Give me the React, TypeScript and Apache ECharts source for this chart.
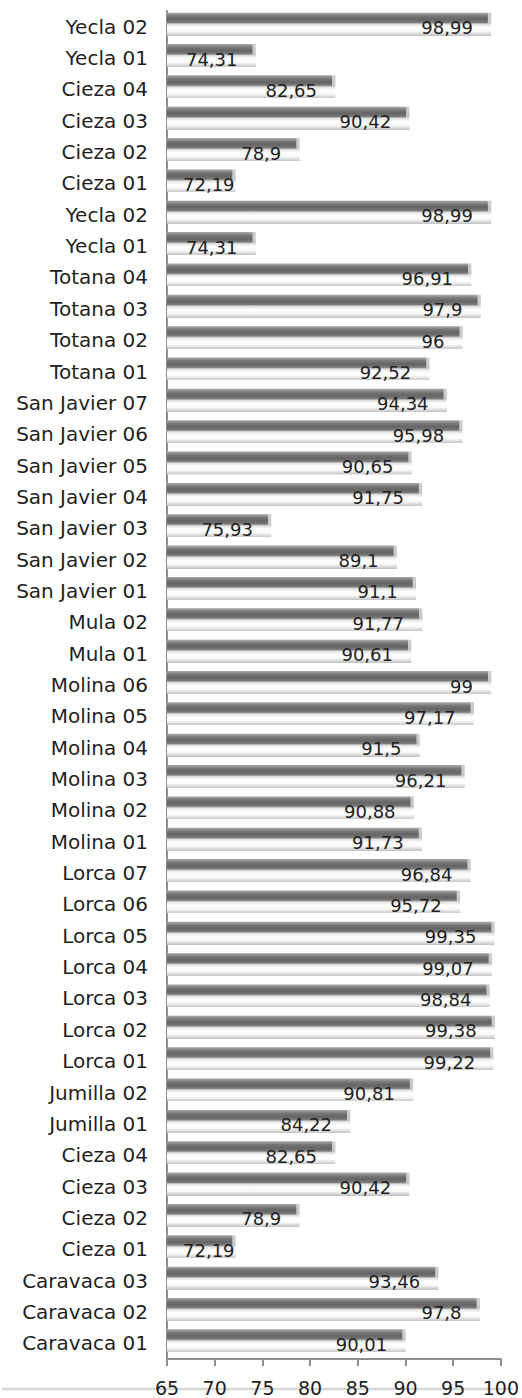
import React, { useEffect, useRef } from "react";
import * as echarts from "echarts";

// Categories listed bottom -> top (as ECharts draws a category y axis)
const categories: string[] = [
  "Caravaca 01", "Caravaca 02", "Caravaca 03",
  "Cieza 01", "Cieza 02", "Cieza 03", "Cieza 04",
  "Jumilla 01", "Jumilla 02",
  "Lorca 01", "Lorca 02", "Lorca 03", "Lorca 04", "Lorca 05", "Lorca 06", "Lorca 07",
  "Molina 01", "Molina 02", "Molina 03", "Molina 04", "Molina 05", "Molina 06",
  "Mula 01", "Mula 02",
  "San Javier 01", "San Javier 02", "San Javier 03", "San Javier 04", "San Javier 05", "San Javier 06", "San Javier 07",
  "Totana 01", "Totana 02", "Totana 03", "Totana 04",
  "Yecla 01", "Yecla 02",
  "Cieza 01", "Cieza 02", "Cieza 03", "Cieza 04",
  "Yecla 01", "Yecla 02",
];

const values: number[] = [
  90.01, 97.8, 93.46,
  72.19, 78.9, 90.42, 82.65,
  84.22, 90.81,
  99.22, 99.38, 98.84, 99.07, 99.35, 95.72, 96.84,
  91.73, 90.88, 96.21, 91.5, 97.17, 99,
  90.61, 91.77,
  91.1, 89.1, 75.93, 91.75, 90.65, 95.98, 94.34,
  92.52, 96, 97.9, 96.91,
  74.31, 98.99,
  72.19, 78.9, 90.42, 82.65,
  74.31, 98.99,
];

const xTicks = { min: 65, max: 100, interval: 5 };

const FONT = "'DejaVu Sans', sans-serif";
const AXIS = "#8e8e8e";
const GRID_LEFT = 167;
const GRID_WIDTH = 334;
const VALUE_FONT = 18;

const fmt = (v: number) => String(v).replace(".", ",");

export default function App() {
  const ref = useRef<HTMLDivElement>(null);

  useEffect(() => {
    document.body.style.margin = "0";
    const chart = echarts.init(ref.current!, null, { renderer: "svg" });

    const ctx = document.createElement("canvas").getContext("2d")!;
    ctx.font = `${VALUE_FONT}px 'DejaVu Sans'`;
    const pxPerUnit = GRID_WIDTH / (xTicks.max - xTicks.min);

    const f = 0.82; // visible fraction of the bar thickness (shifts the bar up)
    const shadeData = values.map((v) => {
      const barLen = (v - xTicks.min) * pxPerUnit;
      const w = ctx.measureText(fmt(v)).width;
      const tooShort = barLen - 18 - w < 16;
      return {
        value: v - 0.35,
        label: tooShort
          ? { position: "insideLeft", offset: [11, 1] }
          : { position: "insideRight", offset: [-10, 1] },
      };
    });

    chart.setOption({
      animation: false,
      backgroundColor: "#ffffff",
      grid: { left: GRID_LEFT, width: GRID_WIDTH, top: 11, height: 1348, containLabel: false },
      xAxis: {
        type: "value",
        min: xTicks.min,
        max: xTicks.max,
        interval: xTicks.interval,
        splitLine: { show: false },
        axisLine: { show: true, lineStyle: { color: AXIS, width: 2 } },
        axisTick: { show: true, length: 7, lineStyle: { color: AXIS, width: 2 } },
        axisLabel: { fontSize: 19, color: "#1f1f1f", fontFamily: FONT, margin: 19 },
      },
      yAxis: {
        type: "category",
        data: categories,
        axisLine: { show: true, lineStyle: { color: AXIS, width: 2 } },
        axisTick: { show: false },
        axisLabel: { fontSize: 20, color: "#1f1f1f", fontFamily: FONT, margin: 19 },
      },
      graphic: [
        {
          type: "line",
          z: -1,
          shape: { x1: 2, y1: 1389, x2: 513, y2: 1389 },
          style: { stroke: "#d6d6d6", lineWidth: 2.5 },
        },
      ],
      series: [
        {
          type: "bar",
          name: "base",
          data: values,
          barWidth: 28,
          barGap: "-100%",
          itemStyle: {
            color: new echarts.graphic.LinearGradient(0, 0, 0, 1, [
              { offset: 0, color: "#cfcfcf" },
              { offset: 0.45 * f, color: "#c6c6c6" },
              { offset: 0.52 * f, color: "#e4e4e4" },
              { offset: 0.64 * f, color: "#ffffff" },
              { offset: 0.8 * f, color: "#fafafa" },
              { offset: f - 0.001, color: "#c4c4c4" },
              { offset: f, color: "rgba(255,255,255,0)" },
              { offset: 1, color: "rgba(255,255,255,0)" },
            ]),
          },
          silent: true,
        },
        {
          type: "bar",
          name: "shade",
          data: shadeData,
          barWidth: 28,
          barGap: "-100%",
          itemStyle: {
            color: new echarts.graphic.LinearGradient(0, 0, 0, 1, [
              { offset: 0, color: "rgba(125,125,125,0.45)" },
              { offset: 0.14 * f, color: "rgba(105,105,105,0.85)" },
              { offset: 0.3 * f, color: "rgba(100,100,100,1)" },
              { offset: 0.43 * f, color: "rgba(115,115,115,0.9)" },
              { offset: 0.5 * f, color: "rgba(160,160,160,0)" },
              { offset: 1, color: "rgba(160,160,160,0)" },
            ]),
          },
          label: {
            show: true,
            fontSize: VALUE_FONT,
            fontFamily: FONT,
            color: "#1f1f1f",
            formatter: (p: any) => fmt(values[p.dataIndex]),
          },
          silent: true,
        },
      ],
    });
    return () => chart.dispose();
  }, []);

  return (
    <div
      ref={ref}
      style={{ position: "absolute", left: 0, top: 0, width: 522, height: 1398 }}
    />
  );
}
